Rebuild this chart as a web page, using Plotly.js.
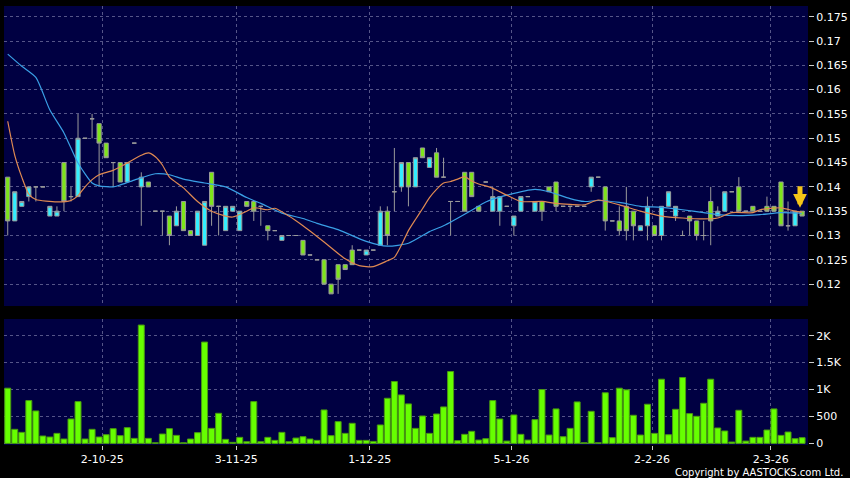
<!DOCTYPE html>
<html>
<head>
<meta charset="utf-8">
<script src="https://cdn.plot.ly/plotly-3.0.1.min.js"></script>
<style>html,body{margin:0;padding:0;background:#000;}#chart{width:850px;height:478px;}</style>
</head>
<body>
<div id="chart"></div>
<script>
// ---- data ----
const tickPositions = [13.45, 32.5, 51.5, 71.65, 91.65, 108.55];
const tickLabels = ['2-10-25', '3-11-25', '1-12-25', '5-1-26', '2-2-26', '2-3-26'];

const openP = [
  .142,.133,.136,.138,.140,.140,.134,.134,.145,.138,
  .138,.150,.154,.153,.149,.145,.145,.141,.149,.140,
  .141,.135,.135,.134,.132,.137,.131,.130,.128,.143,
  .136,.131,.135,.131,.137,.137,.136,.132,.131,.129,
  .130,.130,.129,.126,.125,.125,.120,.124,.124,.127,
  .127,.126,.127,.128,.135,.139,.140,.145,.140,.148,
  .144,.147,.142,.137,.137,.143,.143,.136,.141,.135,
  .135,.136,.132,.135,.138,.135,.137,.140,.141,.136,
  .136,.136,.136,.140,.142,.140,.133,.133,.136,.135,
  .131,.132,.132,.130,.136,.134,.130,.134,.133,.130,
  .137,.134,.135,.139,.140,.135,.136,.135,.136,.136,
  .141,.132,.132,.135
];
const highP = [
  .142,.139,.137,.140,.140,.140,.136,.136,.145,.140,
  .155,.150,.155,.153,.149,.145,.145,.145,.149,.143,
  .141,.135,.135,.134,.136,.137,.131,.135,.137,.143,
  .136,.136,.136,.135,.137,.137,.136,.132,.131,.130,
  .130,.130,.129,.126,.125,.125,.120,.124,.124,.128,
  .127,.127,.127,.136,.136,.148,.145,.145,.146,.148,
  .146,.148,.146,.137,.137,.143,.143,.136,.141,.140,
  .138,.136,.134,.138,.138,.137,.137,.140,.141,.136,
  .136,.136,.136,.142,.142,.140,.133,.136,.140,.135,
  .132,.138,.132,.136,.139,.136,.131,.134,.133,.133,
  .140,.136,.139,.139,.142,.135,.136,.135,.138,.136,
  .141,.137,.135,.135
];
const lowP = [
  .130,.133,.136,.137,.137,.140,.134,.134,.135,.137,
  .138,.150,.150,.140,.146,.140,.141,.141,.149,.132,
  .140,.135,.130,.128,.132,.131,.130,.130,.128,.132,
  .130,.131,.135,.131,.136,.133,.132,.129,.131,.129,
  .130,.130,.126,.126,.125,.120,.118,.118,.123,.124,
  .127,.126,.127,.128,.128,.135,.139,.136,.140,.146,
  .144,.142,.142,.130,.137,.135,.138,.135,.141,.135,
  .132,.136,.130,.135,.138,.135,.133,.139,.135,.136,
  .135,.136,.136,.139,.142,.131,.133,.130,.129,.129,
  .131,.129,.130,.129,.136,.133,.130,.130,.129,.129,
  .128,.134,.135,.139,.135,.135,.135,.135,.135,.135,
  .132,.131,.132,.134
];
const closeP = [
  .133,.139,.137,.140,.140,.140,.136,.135,.137,.138,
  .150,.150,.154,.149,.146,.145,.141,.145,.149,.142,
  .140,.135,.135,.130,.135,.131,.130,.135,.137,.136,
  .136,.136,.136,.135,.136,.135,.136,.131,.131,.130,
  .130,.130,.126,.126,.125,.120,.118,.121,.123,.124,
  .127,.127,.127,.135,.130,.139,.145,.140,.146,.146,
  .146,.142,.142,.137,.137,.135,.138,.135,.141,.138,
  .138,.136,.134,.138,.138,.137,.135,.139,.136,.136,
  .136,.136,.136,.142,.142,.133,.133,.131,.131,.132,
  .132,.136,.130,.136,.139,.136,.130,.133,.130,.130,
  .133,.135,.139,.139,.135,.135,.135,.135,.135,.135,
  .132,.132,.135,.134
];
const volume = [
  1025,261,205,795,602,137,118,186,81,453,
  776,81,261,118,161,273,143,292,93,2198,
  93,12,174,273,149,12,81,199,1882,279,
  559,75,19,112,31,776,31,112,56,205,
  31,99,124,81,56,621,143,404,186,373,
  56,56,37,342,838,1149,900,733,279,509,
  186,546,677,1335,50,168,224,62,87,795,
  453,43,528,168,62,441,1000,155,640,124,
  279,770,12,596,12,940,106,1025,994,522,
  155,727,186,1192,161,633,1223,553,503,745,
  1192,286,230,25,615,43,112,112,248,640,
  149,211,87,106
];

// moving averages (read at sampled sessions)
const maShortIdx = [0,1,2,3,4,7,9,10,11,12,13,15,17,19,20,21,22,23,25,27,29,31,32,34,35,37,38,40,42,44,46,48,50,52,54,55,56,57,58,59,60,61,62,63,64,65,66,67,68,69,71,73,76,78,80,82,84,87,90,93,96,99,101,103,106,107,110,112,113];
const maShortVal = [.1535,.1465,.1420,.1385,.1374,.1369,.1372,.1382,.1400,.1415,.1425,.1434,.1449,.1465,.1470,.1462,.1445,.1420,.1398,.1370,.1350,.1340,.1338,.1350,.1357,.1353,.1356,.1340,.1320,.1298,.1275,.1252,.1238,.1236,.1248,.1255,.1280,.1310,.1333,.1355,.1378,.1395,.1408,.1411,.1416,.1421,.1412,.1406,.1402,.1397,.1383,.1370,.1370,.1366,.1364,.1363,.1373,.1363,.1350,.1340,.1336,.1334,.1336,.1347,.1347,.1353,.1357,.1350,.1348];
const maLongIdx = [0,2,4,6,8,10,12,13,15,16,18,21,23,25,28,31,34,36,39,42,44,47,51,54,57,60,62,66,68,71,75,77,80,82,84,87,90,93,96,99,101,104,107,110,113];
const maLongVal = [.1673,.1648,.1625,.1558,.1511,.1449,.1408,.1402,.1400,.1404,.1414,.1427,.1425,.1416,.1408,.1400,.1378,.1366,.1346,.1335,.1325,.1312,.1288,.1278,.1284,.1308,.1320,.1352,.1369,.1383,.1395,.1390,.1376,.1370,.1372,.1368,.1360,.1358,.1353,.1347,.1343,.1341,.1343,.1347,.1346];

const priceTicks = [0.12,0.125,0.13,0.135,0.14,0.145,0.15,0.155,0.16,0.165,0.17,0.175];
const priceTickText = ['0.12','0.125','0.13','0.135','0.14','0.145','0.15','0.155','0.16','0.165','0.17','0.175'];
const volTicks = [0,500,1000,1500,2000];
const volTickText = ['0','500','1K','1.5K','2K'];

// ---- build ----
const idx = openP.map((_, i) => i);
const FONT = 'DejaVu Sans, Verdana, sans-serif';
const GRID = '#555588';
const DASH = '3px,3px';

const traces = [
  {
    type: 'candlestick', x: idx, open: openP, high: highP, low: lowP, close: closeP,
    xaxis: 'x', yaxis: 'y', whiskerwidth: 0,
    increasing: {fillcolor: '#33eeff', line: {color: '#9a9a9a', width: 1}},
    decreasing: {fillcolor: '#7ee51a', line: {color: '#9a9a9a', width: 1}},
    hoverinfo: 'skip'
  },
  {
    type: 'scatter', mode: 'lines', x: maLongIdx, y: maLongVal, xaxis: 'x', yaxis: 'y',
    line: {color: '#3aa0e6', width: 1.2, shape: 'spline', smoothing: 0.6}, hoverinfo: 'skip'
  },
  {
    type: 'scatter', mode: 'lines', x: maShortIdx, y: maShortVal, xaxis: 'x', yaxis: 'y',
    line: {color: '#e08a52', width: 1.2, shape: 'spline', smoothing: 0.6}, hoverinfo: 'skip'
  },
  {
    type: 'bar', x: idx, y: volume, xaxis: 'x', yaxis: 'y2',
    marker: {color: '#66ff00', line: {color: '#4a9a10', width: 1}}, hoverinfo: 'skip'
  }
];

const tickFont = {family: FONT, size: 11, color: '#ffffff'};

const layout = {
  width: 850, height: 478,
  paper_bgcolor: '#000000', plot_bgcolor: '#000042',
  margin: {l: 4, r: 42, t: 6, b: 33, pad: 0},
  showlegend: false,
  boxgap: 0.15, bargap: 0.15,
  xaxis: {
    anchor: 'y2', range: [-0.53, 113.84],
    tickmode: 'array', tickvals: tickPositions, ticktext: tickLabels,
    ticks: 'outside', ticklen: 4, tickcolor: '#cccccc', tickfont: tickFont,
    showgrid: true, gridcolor: GRID, griddash: DASH, gridwidth: 1,
    zeroline: false, showline: false, rangeslider: {visible: false}, fixedrange: true
  },
  yaxis: {
    domain: [0.3166, 1], side: 'right', anchor: 'x', range: [0.1155, 0.1772],
    tickmode: 'array', tickvals: priceTicks, ticktext: priceTickText,
    ticks: 'outside', ticklen: 5, tickcolor: '#cccccc', tickfont: tickFont,
    showgrid: true, gridcolor: GRID, griddash: DASH, gridwidth: 1,
    zeroline: false, showline: false, fixedrange: true
  },
  yaxis2: {
    domain: [0, 0.287], side: 'right', anchor: 'x', range: [-30, 2310],
    tickmode: 'array', tickvals: volTicks, ticktext: volTickText,
    ticks: 'outside', ticklen: 5, tickcolor: '#cccccc', tickfont: tickFont,
    showgrid: true, gridcolor: GRID, griddash: DASH, gridwidth: 1,
    zeroline: false, showline: false, fixedrange: true
  },
  annotations: [
    {
      x: 112.7, y: 0.1357, xref: 'x', yref: 'y', ax: 0, ay: -23,
      showarrow: true, arrowhead: 2, arrowsize: 0.55, arrowwidth: 5, arrowcolor: '#f5c518', text: ''
    },
    {
      x: 1.046, y: -0.062, xref: 'paper', yref: 'paper', xanchor: 'right', yanchor: 'middle',
      text: 'Copyright by AASTOCKS.com Ltd.', showarrow: false,
      font: {family: FONT, size: 10, color: '#ffffff'}
    }
  ]
};

Plotly.newPlot('chart', traces, layout, {staticPlot: true, displayModeBar: false});
</script>
</body>
</html>
